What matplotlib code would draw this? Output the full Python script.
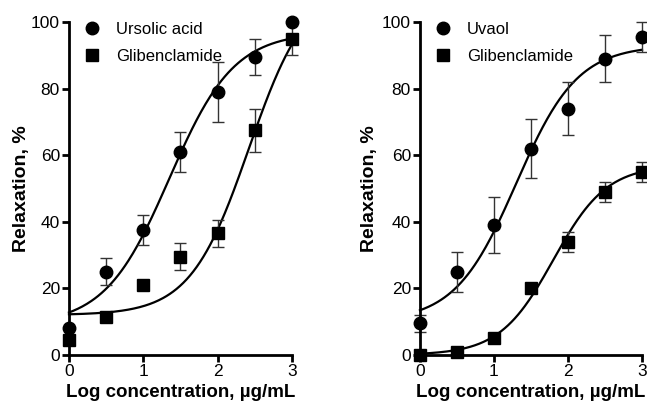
import numpy as np
import matplotlib.pyplot as plt

plt.rcParams['font.family'] = ['Liberation Sans', 'DejaVu Sans']

# log concentration, ug/mL
log_conc = [0, 0.5, 1, 1.5, 2, 2.5, 3]

# left panel: ursolic acid vs glibenclamide
ursolic = [8, 25, 37.5, 61, 79, 89.5, 100]
ursolic_err = [0, 4, 4.5, 6, 9, 5.5, 0]
glib_a = [4.5, 11.5, 21, 29.5, 36.5, 67.5, 95]
glib_a_err = [0, 0, 0, 4, 4, 6.5, 5]

# right panel: uvaol vs glibenclamide
uvaol = [9.5, 25, 39, 62, 74, 89, 95.5]
uvaol_err = [2.5, 6, 8.5, 9, 8, 7, 4.5]
glib_b = [0, 1, 5, 20, 34, 49, 55]
glib_b_err = [0, 0, 0, 1.5, 3, 3, 3]

# fitted sigmoid parameters (bottom, top, logEC50, hill slope)
fit_ursolic = (9, 97, 1.35, 1.0)
fit_glib_a = (12, 112, 2.42, 1.1)
fit_uvaol = (10, 93, 1.3, 1.05)
fit_glib_b = (0, 57, 1.8, 1.2)


def sigmoid(x, p):
    bottom, top, ec50, h = p
    return bottom + (top - bottom) / (1 + 10 ** ((ec50 - x) * h))


fig = plt.figure(figsize=(6.47, 4.05), dpi=100)
ax1 = fig.add_axes([0.1066, 0.1235, 0.3447, 0.8222])
ax2 = fig.add_axes([0.6491, 0.1235, 0.3432, 0.8222])

panels = [
    (ax1, ursolic, ursolic_err, fit_ursolic, 'Ursolic acid', glib_a, glib_a_err, fit_glib_a, -0.175),
    (ax2, uvaol, uvaol_err, fit_uvaol, 'Uvaol', glib_b, glib_b_err, fit_glib_b, -0.19),
]

xs = np.linspace(0, 3, 200)
for ax, d1, e1, f1, name, d2, e2, f2, ylab_x in panels:
    ax.plot(xs, sigmoid(xs, f1), color='black', lw=1.6, clip_on=False)
    ax.plot(xs, sigmoid(xs, f2), color='black', lw=1.6, clip_on=False)
    ax.errorbar(log_conc, d1, yerr=e1, fmt='none', ecolor='#333333', elinewidth=1,
                capsize=4, capthick=1, clip_on=False)
    ax.errorbar(log_conc, d2, yerr=e2, fmt='none', ecolor='#333333', elinewidth=1,
                capsize=4, capthick=1, clip_on=False)
    ax.plot(log_conc, d1, 'o', color='black', ms=9, ls='none', label=name, clip_on=False, zorder=5)
    ax.plot(log_conc, d2, 's', color='black', ms=8.5, ls='none', label='Glibenclamide',
            clip_on=False, zorder=5)

    ax.set_xlim(0, 3)
    ax.set_ylim(0, 100)
    ax.set_xticks([0, 1, 2, 3])
    ax.set_yticks([0, 20, 40, 60, 80, 100])
    ax.spines['top'].set_visible(False)
    ax.spines['right'].set_visible(False)
    ax.spines['left'].set_linewidth(2)
    ax.spines['bottom'].set_linewidth(2)
    ax.tick_params(direction='out', length=5, width=2, labelsize=12.5, pad=1.5)
    ax.set_xlabel('Log concentration, µg/mL', fontsize=13.5, fontweight='bold')
    ax.set_ylabel('Relaxation, %', fontsize=14, fontweight='bold')
    ax.xaxis.set_label_coords(0.5, -0.088)
    ax.yaxis.set_label_coords(ylab_x, 0.5)
    ax.legend(loc='upper left', bbox_to_anchor=(0.0, 1.045), frameon=False, fontsize=12,
              numpoints=1, handlelength=1, handletextpad=0.9, labelspacing=0.7)

fig.savefig('out.png', dpi=100)
